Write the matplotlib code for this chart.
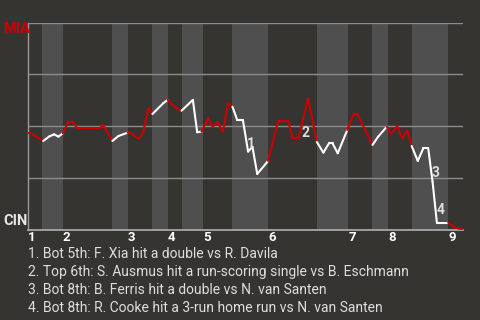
import matplotlib
matplotlib.use("Agg")
import matplotlib.pyplot as plt
from matplotlib.collections import LineCollection
import numpy as np

plt.rcParams['font.family'] = ['Roboto', 'DejaVu Sans']

# game progress (plays) and MIA win probability
progress = [0, 0.7, 3.5, 4.9, 6.0, 7.0, 8.0, 9.3, 10.3, 11.3, 16.6, 17.2, 19.4, 20.8,
            22.9, 23.3, 25.4, 26.4, 27.7, 28.6, 31.1, 32.1, 33.0, 34.0, 35.3, 37.9,
            38.9, 39.9, 41.4, 42.4, 43.6, 44.8, 46.0, 47.0, 48.1, 49.4, 50.6, 51.6,
            52.7, 55.2, 57.5, 59.8, 60.8, 62.2, 64.4, 66.4, 67.9, 69.2, 70.0, 71.2,
            73.4, 74.9, 75.7, 79.2, 80.5, 82.5, 83.4, 84.9, 86.0, 87.2, 88.2, 89.6,
            90.9, 92.0, 93.0, 94.0, 96.6, 98.2, 99.9]
win_prob = [0.466, 0.466, 0.429, 0.451, 0.461, 0.450, 0.466, 0.522, 0.522, 0.490,
            0.490, 0.508, 0.429, 0.453, 0.469, 0.472, 0.440, 0.466, 0.587, 0.559,
            0.611, 0.627, 0.607, 0.590, 0.575, 0.627, 0.471, 0.474, 0.538, 0.498,
            0.519, 0.474, 0.611, 0.594, 0.530, 0.530, 0.378, 0.401, 0.270, 0.333,
            0.527, 0.527, 0.445, 0.445, 0.634, 0.424, 0.373, 0.418, 0.418, 0.370,
            0.482, 0.559, 0.559, 0.410, 0.450, 0.498, 0.463, 0.501, 0.442, 0.479,
            0.405, 0.333, 0.395, 0.395, 0.233, 0.035, 0.035, 0.011, 0.003]

# start of each half inning (top 1, bot 1, top 2, ...) and game end
half_starts = [0, 3.2, 8.0, 19.3, 23.0, 28.5, 32.2, 35.4, 40.2, 46.9, 55.2, 66.4,
               73.6, 79.1, 82.8, 88.3, 96.6]
game_end = 100
innings = ['1', '2', '3', '4', '5', '6', '7', '8', '9']

events_x = [51.3, 63.7, 93.6, 94.9]
events_y = [0.414, 0.467, 0.277, 0.094]
events_text = [
    "1. Bot 5th: F. Xia hit a double vs R. Davila",
    "2. Top 6th: S. Ausmus hit a run-scoring single vs B. Eschmann",
    "3. Bot 8th: B. Ferris hit a double vs N. van Santen",
    "4. Bot 8th: R. Cooke hit a 3-run home run vs N. van Santen",
]

bg = '#363431'
band = '#4f4f4f'
red = '#cc0000'
light = '#e6e6e6'

fig = plt.figure(figsize=(4.8, 3.2), dpi=100, facecolor=bg)
ax = fig.add_axes([28 / 480, 90 / 320, 435 / 480, 207.5 / 320])
ax.set_facecolor(bg)
ax.set_xlim(0, game_end)
ax.set_ylim(0, 1)

edges = half_starts + [game_end]
for i in range(1, len(half_starts), 2):
    ax.axvspan(edges[i], edges[i + 1], color=band, lw=0, zorder=0)

for y in [0.25, 0.5, 0.75, 1.0]:
    ax.axhline(y, color='#8c8c8c', lw=1, zorder=1)

for s in ['top', 'right']:
    ax.spines[s].set_visible(False)
ax.spines['left'].set_color('#9a9a9a')
ax.spines['bottom'].set_color('#b0b0b0')
ax.spines['left'].set_linewidth(1)
ax.spines['bottom'].set_linewidth(1.2)

# colour each segment by which half inning it falls in
pts = np.column_stack([progress, win_prob])
segs = np.stack([pts[:-1], pts[1:]], axis=1)
mids = (pts[:-1, 0] + pts[1:, 0]) / 2
idx = np.searchsorted(half_starts, mids, side='right') - 1
colors = [red if k % 2 == 0 else 'white' for k in idx]
lc = LineCollection(segs, colors=colors, linewidths=1.5, zorder=3, capstyle='round',
                    joinstyle='round')
ax.add_collection(lc)

for n, (ex, ey) in enumerate(zip(events_x, events_y)):
    ax.text(ex, ey, str(n + 1), color='#dddddd', fontsize=10, fontweight='bold',
            ha='center', va='center', zorder=4)

ax.set_xticks(half_starts[::2])
ax.set_xticklabels(innings)
ax.tick_params(axis='x', length=0, pad=1, colors='white', labelsize=9.5)
for lab in ax.get_xticklabels():
    lab.set_fontweight('bold')
    lab.set_horizontalalignment('left')
ax.set_yticks([])

fig.text(3 / 480, 1 - 29 / 320, 'MIA', color=red, fontsize=10.5, fontweight='bold',
         ha='left', va='center')
fig.text(3 / 480, 1 - 221 / 320, 'CIN', color=light, fontsize=10.5, fontweight='bold',
         ha='left', va='center')

for i, t in enumerate(events_text):
    fig.text(28 / 480, 1 - (254 + 18 * i) / 320, t, color='#dedede', fontsize=10,
             ha='left', va='center')

fig.savefig('out.png', dpi=100, facecolor=bg)
